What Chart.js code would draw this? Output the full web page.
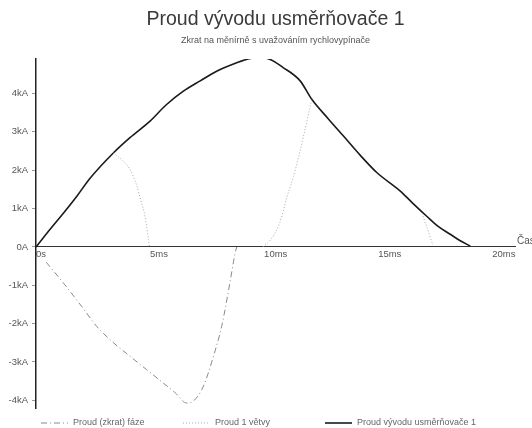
<!DOCTYPE html>
<html>
<head>
<meta charset="utf-8">
<script src="https://cdn.jsdelivr.net/npm/chart.js@4/dist/chart.umd.min.js"></script>
<style>
html,body{margin:0;padding:0;background:#fff;}
#wrap{width:532px;height:428px;}
</style>
</head>
<body>
<div id="wrap"><canvas id="c" width="532" height="428"></canvas></div>
<script>
// Data (time in ms, current in kA)
const mainT = [0,0.6,1.2,1.8,2.37,3.39,4.12,5.0,5.7,6.46,7.2,7.92,8.8,9.3,9.7,10.1,10.85,11.58,12.09,12.8,13.48,14.2,14.94,15.96,16.5,17.13,17.6,18.16,18.6,19.04];
const mainI = [0,0.45,0.88,1.33,1.79,2.45,2.85,3.28,3.7,4.06,4.33,4.58,4.80,4.9,4.93,4.92,4.67,4.33,3.85,3.35,2.89,2.4,1.94,1.46,1.15,0.80,0.55,0.33,0.16,0.02];

const phaseT = [0.45,1.2,2.0,2.66,3.4,4.12,4.85,5.58,6.1,6.6,6.9,7.34,7.78,8.14,8.5,8.73,8.8];
const phaseI = [-0.4,-0.94,-1.55,-2.07,-2.5,-2.85,-3.2,-3.55,-3.8,-4.07,-4.02,-3.63,-2.85,-2.07,-0.94,-0.16,0];

const branchT = [3.39,3.8,4.12,4.42,4.6,4.78,4.93,4.98,null,9.95,10.3,10.7,11.0,11.29,11.73,12.09,null,16.97,17.2,17.4];
const branchI = [2.45,2.25,2.02,1.59,1.2,0.8,0.19,0,null,0,0.2,0.65,1.3,1.84,2.89,3.85,null,0.8,0.4,0.05];

const xTicks = [0,5,10,15,20];
const xTickLabels = ['0s','5ms','10ms','15ms','20ms'];
const yTicks = [-4,-3,-2,-1,0,1,2,3,4];
const yTickLabels = ['-4kA','-3kA','-2kA','-1kA','0A','1kA','2kA','3kA','4kA'];

const titleText = 'Proud vývodu usměrňovače 1';
const subtitleText = 'Zkrat na měnírně s uvažováním rychlovypínače';
const seriesNames = ['Proud (zkrat) fáze','Proud 1 větvy','Proud vývodu usměrňovače 1'];
const xAxisName = 'Čas';

function pts(t, v){ return t.map((x,i)=> (x===null ? {x:NaN,y:null} : {x:x,y:v[i]})); }

const font = '"Liberation Sans", Arial, sans-serif';

const axisNamePlugin = {
  id:'axisName',
  afterDraw(chart){
    const ctx = chart.ctx;
    const xs = chart.scales.x, ys = chart.scales.y;
    const y0 = ys.getPixelForValue(0);
    ctx.save();
    ctx.font = '10px ' + font;
    ctx.fillStyle = '#555';
    ctx.textAlign = 'left';
    ctx.textBaseline = 'bottom';
    ctx.fillText(xAxisName, xs.right + 2, y0 - 1);
    ctx.restore();
  }
};

// legend drawn from the chart's own datasets (styles taken from the datasets)
const legendStarts = [41,183,325];
const lineLegendPlugin = {
  id:'lineLegend',
  afterDraw(chart){
    const ctx = chart.ctx;
    const y = chart.height - 5;
    ctx.save();
    chart.data.datasets.forEach((ds,i)=>{
      const x = legendStarts[i];
      ctx.beginPath();
      ctx.setLineDash(ds.borderDash || []);
      ctx.strokeStyle = ds.borderColor;
      ctx.lineWidth = ds.borderWidth;
      ctx.moveTo(x, y); ctx.lineTo(x+27, y);
      ctx.stroke();
      ctx.setLineDash([]);
      ctx.font = '9px ' + font;
      ctx.fillStyle = '#666';
      ctx.textAlign = 'left';
      ctx.textBaseline = 'middle';
      ctx.fillText(ds.label, x + 32, y);
    });
    ctx.restore();
  }
};

new Chart(document.getElementById('c'), {
  type:'line',
  data:{
    datasets:[
      {label:seriesNames[0], data:pts(phaseT,phaseI), borderColor:'#8a8a8a', backgroundColor:'transparent', borderWidth:1, borderDash:[6,3,1,3], pointRadius:0, cubicInterpolationMode:'monotone', spanGaps:false},
      {label:seriesNames[1], data:pts(branchT,branchI), borderColor:'#a8a8a8', backgroundColor:'transparent', borderWidth:1, borderDash:[1,2], pointRadius:0, cubicInterpolationMode:'monotone', spanGaps:false},
      {label:seriesNames[2], data:pts(mainT,mainI), borderColor:'#1a1a1a', backgroundColor:'transparent', borderWidth:1.6, pointRadius:0, cubicInterpolationMode:'monotone'}
    ]
  },
  options:{
    responsive:false,
    animation:false,
    devicePixelRatio:1,
    layout:{padding:{left:0,right:17,top:4,bottom:20}},
    plugins:{
      title:{display:true, text:titleText, fullSize:false, color:'#3a3a3a', font:{family:font,size:19.5,weight:'normal'}, padding:{top:4,bottom:2}},
      subtitle:{display:true, text:subtitleText, fullSize:false, color:'#555', font:{family:font,size:9,weight:'normal'}, padding:{top:2,bottom:12.8}},
      legend:{display:false},
      tooltip:{enabled:false}
    },
    scales:{
      x:{type:'linear', position:{y:0}, min:0, max:21,
         afterBuildTicks(s){ s.ticks = xTicks.map(v=>({value:v})); },
         ticks:{align:'start', padding:2, color:'#555', font:{family:font,size:9.5}, callback:(v)=>{const i=xTicks.indexOf(v);return i>=0?xTickLabels[i]:'';}},
         grid:{display:false, drawTicks:false},
         border:{display:true, color:'#333', width:1}},
      y:{type:'linear', min:-4.2, max:4.9,
         afterBuildTicks(s){ s.ticks = yTicks.map(v=>({value:v})); },
         afterFit(s){ s.width = 36; },
         ticks:{padding:4, color:'#555', font:{family:font,size:9.5}, callback:(v)=>{const i=yTicks.indexOf(v);return i>=0?yTickLabels[i]:'';}},
         grid:{display:true, drawOnChartArea:false, drawTicks:true, tickLength:4, color:'#999'},
         border:{display:true, color:'#222', width:1.5}}
    }
  },
  plugins:[axisNamePlugin, lineLegendPlugin]
});
</script>
</body>
</html>
